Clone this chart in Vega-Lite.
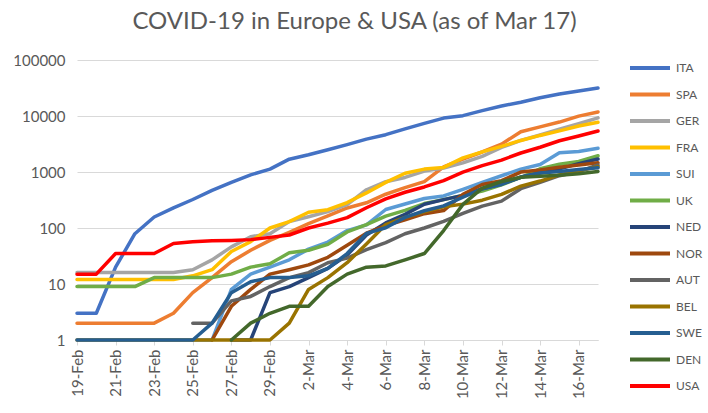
{
  "$schema": "https://vega.github.io/schema/vega-lite/v6.json",
  "width": 521,
  "height": 280,
  "autosize": {"type": "none"},
  "padding": {"left": 77, "top": 60, "right": 110, "bottom": 73},
  "background": "white",
  "title": {"text": "COVID-19 in Europe & USA (as of Mar 17)", "anchor": "middle", "frame": "group", "dx": 17, "offset": 19, "fontSize": 24, "font": "Lato", "fontWeight": "normal", "color": "#595959"},
  "config": {"view": {"stroke": null}},
  "data": {"values": [
{"c":"ITA","d":"19-Feb","v":3},{"c":"ITA","d":"20-Feb","v":3},{"c":"ITA","d":"21-Feb","v":20},{"c":"ITA","d":"22-Feb","v":79},{"c":"ITA","d":"23-Feb","v":157},{"c":"ITA","d":"24-Feb","v":229},{"c":"ITA","d":"25-Feb","v":323},{"c":"ITA","d":"26-Feb","v":470},{"c":"ITA","d":"27-Feb","v":655},{"c":"ITA","d":"28-Feb","v":889},{"c":"ITA","d":"29-Feb","v":1128},{"c":"ITA","d":"1-Mar","v":1694},{"c":"ITA","d":"2-Mar","v":2036},{"c":"ITA","d":"3-Mar","v":2502},{"c":"ITA","d":"4-Mar","v":3089},{"c":"ITA","d":"5-Mar","v":3858},{"c":"ITA","d":"6-Mar","v":4636},{"c":"ITA","d":"7-Mar","v":5883},{"c":"ITA","d":"8-Mar","v":7375},{"c":"ITA","d":"9-Mar","v":9172},{"c":"ITA","d":"10-Mar","v":10149},{"c":"ITA","d":"11-Mar","v":12462},{"c":"ITA","d":"12-Mar","v":15113},{"c":"ITA","d":"13-Mar","v":17660},{"c":"ITA","d":"14-Mar","v":21157},{"c":"ITA","d":"15-Mar","v":24747},{"c":"ITA","d":"16-Mar","v":27980},{"c":"ITA","d":"17-Mar","v":31506},
{"c":"SPA","d":"19-Feb","v":2},{"c":"SPA","d":"20-Feb","v":2},{"c":"SPA","d":"21-Feb","v":2},{"c":"SPA","d":"22-Feb","v":2},{"c":"SPA","d":"23-Feb","v":2},{"c":"SPA","d":"24-Feb","v":3},{"c":"SPA","d":"25-Feb","v":7},{"c":"SPA","d":"26-Feb","v":13},{"c":"SPA","d":"27-Feb","v":25},{"c":"SPA","d":"28-Feb","v":40},{"c":"SPA","d":"29-Feb","v":60},{"c":"SPA","d":"1-Mar","v":84},{"c":"SPA","d":"2-Mar","v":120},{"c":"SPA","d":"3-Mar","v":165},{"c":"SPA","d":"4-Mar","v":228},{"c":"SPA","d":"5-Mar","v":282},{"c":"SPA","d":"6-Mar","v":401},{"c":"SPA","d":"7-Mar","v":525},{"c":"SPA","d":"8-Mar","v":674},{"c":"SPA","d":"9-Mar","v":1231},{"c":"SPA","d":"10-Mar","v":1695},{"c":"SPA","d":"11-Mar","v":2277},{"c":"SPA","d":"12-Mar","v":3146},{"c":"SPA","d":"13-Mar","v":5232},{"c":"SPA","d":"14-Mar","v":6391},{"c":"SPA","d":"15-Mar","v":7798},{"c":"SPA","d":"16-Mar","v":9942},{"c":"SPA","d":"17-Mar","v":11826},
{"c":"GER","d":"19-Feb","v":16},{"c":"GER","d":"20-Feb","v":16},{"c":"GER","d":"21-Feb","v":16},{"c":"GER","d":"22-Feb","v":16},{"c":"GER","d":"23-Feb","v":16},{"c":"GER","d":"24-Feb","v":16},{"c":"GER","d":"25-Feb","v":18},{"c":"GER","d":"26-Feb","v":27},{"c":"GER","d":"27-Feb","v":46},{"c":"GER","d":"28-Feb","v":70},{"c":"GER","d":"29-Feb","v":79},{"c":"GER","d":"1-Mar","v":130},{"c":"GER","d":"2-Mar","v":159},{"c":"GER","d":"3-Mar","v":196},{"c":"GER","d":"4-Mar","v":262},{"c":"GER","d":"5-Mar","v":482},{"c":"GER","d":"6-Mar","v":670},{"c":"GER","d":"7-Mar","v":799},{"c":"GER","d":"8-Mar","v":1040},{"c":"GER","d":"9-Mar","v":1176},{"c":"GER","d":"10-Mar","v":1457},{"c":"GER","d":"11-Mar","v":1908},{"c":"GER","d":"12-Mar","v":2745},{"c":"GER","d":"13-Mar","v":3675},{"c":"GER","d":"14-Mar","v":4585},{"c":"GER","d":"15-Mar","v":5795},{"c":"GER","d":"16-Mar","v":7272},{"c":"GER","d":"17-Mar","v":9257},
{"c":"FRA","d":"19-Feb","v":12},{"c":"FRA","d":"20-Feb","v":12},{"c":"FRA","d":"21-Feb","v":12},{"c":"FRA","d":"22-Feb","v":12},{"c":"FRA","d":"23-Feb","v":12},{"c":"FRA","d":"24-Feb","v":12},{"c":"FRA","d":"25-Feb","v":14},{"c":"FRA","d":"26-Feb","v":18},{"c":"FRA","d":"27-Feb","v":38},{"c":"FRA","d":"28-Feb","v":57},{"c":"FRA","d":"29-Feb","v":100},{"c":"FRA","d":"1-Mar","v":130},{"c":"FRA","d":"2-Mar","v":191},{"c":"FRA","d":"3-Mar","v":212},{"c":"FRA","d":"4-Mar","v":285},{"c":"FRA","d":"5-Mar","v":423},{"c":"FRA","d":"6-Mar","v":653},{"c":"FRA","d":"7-Mar","v":949},{"c":"FRA","d":"8-Mar","v":1126},{"c":"FRA","d":"9-Mar","v":1209},{"c":"FRA","d":"10-Mar","v":1784},{"c":"FRA","d":"11-Mar","v":2281},{"c":"FRA","d":"12-Mar","v":2876},{"c":"FRA","d":"13-Mar","v":3661},{"c":"FRA","d":"14-Mar","v":4499},{"c":"FRA","d":"15-Mar","v":5423},{"c":"FRA","d":"16-Mar","v":6633},{"c":"FRA","d":"17-Mar","v":7730},
{"c":"SUI","d":"25-Feb","v":1},{"c":"SUI","d":"26-Feb","v":1},{"c":"SUI","d":"27-Feb","v":8},{"c":"SUI","d":"28-Feb","v":15},{"c":"SUI","d":"29-Feb","v":20},{"c":"SUI","d":"1-Mar","v":27},{"c":"SUI","d":"2-Mar","v":42},{"c":"SUI","d":"3-Mar","v":56},{"c":"SUI","d":"4-Mar","v":90},{"c":"SUI","d":"5-Mar","v":114},{"c":"SUI","d":"6-Mar","v":214},{"c":"SUI","d":"7-Mar","v":268},{"c":"SUI","d":"8-Mar","v":337},{"c":"SUI","d":"9-Mar","v":374},{"c":"SUI","d":"10-Mar","v":491},{"c":"SUI","d":"11-Mar","v":652},{"c":"SUI","d":"12-Mar","v":858},{"c":"SUI","d":"13-Mar","v":1125},{"c":"SUI","d":"14-Mar","v":1359},{"c":"SUI","d":"15-Mar","v":2200},{"c":"SUI","d":"16-Mar","v":2330},{"c":"SUI","d":"17-Mar","v":2650},
{"c":"UK","d":"19-Feb","v":9},{"c":"UK","d":"20-Feb","v":9},{"c":"UK","d":"21-Feb","v":9},{"c":"UK","d":"22-Feb","v":9},{"c":"UK","d":"23-Feb","v":13},{"c":"UK","d":"24-Feb","v":13},{"c":"UK","d":"25-Feb","v":13},{"c":"UK","d":"26-Feb","v":13},{"c":"UK","d":"27-Feb","v":15},{"c":"UK","d":"28-Feb","v":20},{"c":"UK","d":"29-Feb","v":23},{"c":"UK","d":"1-Mar","v":36},{"c":"UK","d":"2-Mar","v":40},{"c":"UK","d":"3-Mar","v":51},{"c":"UK","d":"4-Mar","v":85},{"c":"UK","d":"5-Mar","v":115},{"c":"UK","d":"6-Mar","v":163},{"c":"UK","d":"7-Mar","v":206},{"c":"UK","d":"8-Mar","v":273},{"c":"UK","d":"9-Mar","v":321},{"c":"UK","d":"10-Mar","v":382},{"c":"UK","d":"11-Mar","v":456},{"c":"UK","d":"12-Mar","v":590},{"c":"UK","d":"13-Mar","v":798},{"c":"UK","d":"14-Mar","v":1140},{"c":"UK","d":"15-Mar","v":1372},{"c":"UK","d":"16-Mar","v":1543},{"c":"UK","d":"17-Mar","v":1950},
{"c":"NED","d":"27-Feb","v":1},{"c":"NED","d":"28-Feb","v":1},{"c":"NED","d":"29-Feb","v":7},{"c":"NED","d":"1-Mar","v":9},{"c":"NED","d":"2-Mar","v":13},{"c":"NED","d":"3-Mar","v":19},{"c":"NED","d":"4-Mar","v":33},{"c":"NED","d":"5-Mar","v":75},{"c":"NED","d":"6-Mar","v":123},{"c":"NED","d":"7-Mar","v":175},{"c":"NED","d":"8-Mar","v":265},{"c":"NED","d":"9-Mar","v":321},{"c":"NED","d":"10-Mar","v":382},{"c":"NED","d":"11-Mar","v":503},{"c":"NED","d":"12-Mar","v":614},{"c":"NED","d":"13-Mar","v":804},{"c":"NED","d":"14-Mar","v":959},{"c":"NED","d":"15-Mar","v":1135},{"c":"NED","d":"16-Mar","v":1413},{"c":"NED","d":"17-Mar","v":1705},
{"c":"NOR","d":"26-Feb","v":1},{"c":"NOR","d":"27-Feb","v":4},{"c":"NOR","d":"28-Feb","v":8},{"c":"NOR","d":"29-Feb","v":15},{"c":"NOR","d":"1-Mar","v":18},{"c":"NOR","d":"2-Mar","v":22},{"c":"NOR","d":"3-Mar","v":30},{"c":"NOR","d":"4-Mar","v":49},{"c":"NOR","d":"5-Mar","v":81},{"c":"NOR","d":"6-Mar","v":110},{"c":"NOR","d":"7-Mar","v":140},{"c":"NOR","d":"8-Mar","v":180},{"c":"NOR","d":"9-Mar","v":205},{"c":"NOR","d":"10-Mar","v":400},{"c":"NOR","d":"11-Mar","v":598},{"c":"NOR","d":"12-Mar","v":702},{"c":"NOR","d":"13-Mar","v":996},{"c":"NOR","d":"14-Mar","v":1090},{"c":"NOR","d":"15-Mar","v":1221},{"c":"NOR","d":"16-Mar","v":1333},{"c":"NOR","d":"17-Mar","v":1463},
{"c":"AUT","d":"25-Feb","v":2},{"c":"AUT","d":"26-Feb","v":2},{"c":"AUT","d":"27-Feb","v":5},{"c":"AUT","d":"28-Feb","v":6},{"c":"AUT","d":"29-Feb","v":9},{"c":"AUT","d":"1-Mar","v":13},{"c":"AUT","d":"2-Mar","v":16},{"c":"AUT","d":"3-Mar","v":24},{"c":"AUT","d":"4-Mar","v":29},{"c":"AUT","d":"5-Mar","v":41},{"c":"AUT","d":"6-Mar","v":55},{"c":"AUT","d":"7-Mar","v":79},{"c":"AUT","d":"8-Mar","v":100},{"c":"AUT","d":"9-Mar","v":131},{"c":"AUT","d":"10-Mar","v":182},{"c":"AUT","d":"11-Mar","v":246},{"c":"AUT","d":"12-Mar","v":302},{"c":"AUT","d":"13-Mar","v":504},{"c":"AUT","d":"14-Mar","v":655},{"c":"AUT","d":"15-Mar","v":860},{"c":"AUT","d":"16-Mar","v":1018},{"c":"AUT","d":"17-Mar","v":1332},
{"c":"BEL","d":"19-Feb","v":1},{"c":"BEL","d":"20-Feb","v":1},{"c":"BEL","d":"21-Feb","v":1},{"c":"BEL","d":"22-Feb","v":1},{"c":"BEL","d":"23-Feb","v":1},{"c":"BEL","d":"24-Feb","v":1},{"c":"BEL","d":"25-Feb","v":1},{"c":"BEL","d":"26-Feb","v":1},{"c":"BEL","d":"27-Feb","v":1},{"c":"BEL","d":"28-Feb","v":1},{"c":"BEL","d":"29-Feb","v":1},{"c":"BEL","d":"1-Mar","v":2},{"c":"BEL","d":"2-Mar","v":8},{"c":"BEL","d":"3-Mar","v":13},{"c":"BEL","d":"4-Mar","v":24},{"c":"BEL","d":"5-Mar","v":52},{"c":"BEL","d":"6-Mar","v":115},{"c":"BEL","d":"7-Mar","v":155},{"c":"BEL","d":"8-Mar","v":195},{"c":"BEL","d":"9-Mar","v":239},{"c":"BEL","d":"10-Mar","v":267},{"c":"BEL","d":"11-Mar","v":314},{"c":"BEL","d":"12-Mar","v":399},{"c":"BEL","d":"13-Mar","v":559},{"c":"BEL","d":"14-Mar","v":689},{"c":"BEL","d":"15-Mar","v":886},{"c":"BEL","d":"16-Mar","v":1058},{"c":"BEL","d":"17-Mar","v":1243},
{"c":"SWE","d":"19-Feb","v":1},{"c":"SWE","d":"20-Feb","v":1},{"c":"SWE","d":"21-Feb","v":1},{"c":"SWE","d":"22-Feb","v":1},{"c":"SWE","d":"23-Feb","v":1},{"c":"SWE","d":"24-Feb","v":1},{"c":"SWE","d":"25-Feb","v":1},{"c":"SWE","d":"26-Feb","v":2},{"c":"SWE","d":"27-Feb","v":7},{"c":"SWE","d":"28-Feb","v":11},{"c":"SWE","d":"29-Feb","v":13},{"c":"SWE","d":"1-Mar","v":13},{"c":"SWE","d":"2-Mar","v":14},{"c":"SWE","d":"3-Mar","v":19},{"c":"SWE","d":"4-Mar","v":35},{"c":"SWE","d":"5-Mar","v":80},{"c":"SWE","d":"6-Mar","v":101},{"c":"SWE","d":"7-Mar","v":155},{"c":"SWE","d":"8-Mar","v":203},{"c":"SWE","d":"9-Mar","v":248},{"c":"SWE","d":"10-Mar","v":355},{"c":"SWE","d":"11-Mar","v":500},{"c":"SWE","d":"12-Mar","v":599},{"c":"SWE","d":"13-Mar","v":814},{"c":"SWE","d":"14-Mar","v":961},{"c":"SWE","d":"15-Mar","v":1022},{"c":"SWE","d":"16-Mar","v":1103},{"c":"SWE","d":"17-Mar","v":1190},
{"c":"DEN","d":"27-Feb","v":1},{"c":"DEN","d":"28-Feb","v":2},{"c":"DEN","d":"29-Feb","v":3},{"c":"DEN","d":"1-Mar","v":4},{"c":"DEN","d":"2-Mar","v":4},{"c":"DEN","d":"3-Mar","v":9},{"c":"DEN","d":"4-Mar","v":15},{"c":"DEN","d":"5-Mar","v":20},{"c":"DEN","d":"6-Mar","v":21},{"c":"DEN","d":"7-Mar","v":27},{"c":"DEN","d":"8-Mar","v":35},{"c":"DEN","d":"9-Mar","v":90},{"c":"DEN","d":"10-Mar","v":264},{"c":"DEN","d":"11-Mar","v":516},{"c":"DEN","d":"12-Mar","v":676},{"c":"DEN","d":"13-Mar","v":804},{"c":"DEN","d":"14-Mar","v":836},{"c":"DEN","d":"15-Mar","v":875},{"c":"DEN","d":"16-Mar","v":932},{"c":"DEN","d":"17-Mar","v":1024},
{"c":"USA","d":"19-Feb","v":15},{"c":"USA","d":"20-Feb","v":15},{"c":"USA","d":"21-Feb","v":35},{"c":"USA","d":"22-Feb","v":35},{"c":"USA","d":"23-Feb","v":35},{"c":"USA","d":"24-Feb","v":53},{"c":"USA","d":"25-Feb","v":57},{"c":"USA","d":"26-Feb","v":59},{"c":"USA","d":"27-Feb","v":60},{"c":"USA","d":"28-Feb","v":62},{"c":"USA","d":"29-Feb","v":68},{"c":"USA","d":"1-Mar","v":75},{"c":"USA","d":"2-Mar","v":100},{"c":"USA","d":"3-Mar","v":122},{"c":"USA","d":"4-Mar","v":153},{"c":"USA","d":"5-Mar","v":230},{"c":"USA","d":"6-Mar","v":330},{"c":"USA","d":"7-Mar","v":435},{"c":"USA","d":"8-Mar","v":541},{"c":"USA","d":"9-Mar","v":704},{"c":"USA","d":"10-Mar","v":994},{"c":"USA","d":"11-Mar","v":1301},{"c":"USA","d":"12-Mar","v":1630},{"c":"USA","d":"13-Mar","v":2183},{"c":"USA","d":"14-Mar","v":2770},{"c":"USA","d":"15-Mar","v":3613},{"c":"USA","d":"16-Mar","v":4400},{"c":"USA","d":"17-Mar","v":5400}
  ]},
  "mark": {"type": "line", "strokeWidth": 3.5, "strokeJoin": "round", "strokeCap": "round"},
  "encoding": {
    "x": {"field": "d", "type": "ordinal",
      "scale": {"type": "point", "padding": 0, "domain": ["19-Feb","20-Feb","21-Feb","22-Feb","23-Feb","24-Feb","25-Feb","26-Feb","27-Feb","28-Feb","29-Feb","1-Mar","2-Mar","3-Mar","4-Mar","5-Mar","6-Mar","7-Mar","8-Mar","9-Mar","10-Mar","11-Mar","12-Mar","13-Mar","14-Mar","15-Mar","16-Mar","17-Mar"]},
      "axis": {"title": null, "values": ["19-Feb","21-Feb","23-Feb","25-Feb","27-Feb","29-Feb","2-Mar","4-Mar","6-Mar","8-Mar","10-Mar","12-Mar","14-Mar","16-Mar"], "labelAngle": 270, "labelFont": "Lato", "labelFontSize": 15, "labelColor": "#595959", "labelPadding": 4, "tickColor": "#D9D9D9", "tickSize": 5, "domainColor": "#D9D9D9", "domainWidth": 1, "grid": false}},
    "y": {"field": "v", "type": "quantitative",
      "scale": {"type": "log", "domain": [1, 100000], "nice": false},
      "axis": {"title": null, "values": [1, 10, 100, 1000, 10000, 100000], "format": "d", "labelFont": "Lato", "labelFontSize": 15, "labelColor": "#595959", "labelPadding": 12, "ticks": false, "tickSize": 0, "domain": false, "grid": true, "gridColor": "#D9D9D9", "gridWidth": 1}},
    "color": {"field": "c", "type": "nominal",
      "scale": {"domain": ["ITA","SPA","GER","FRA","SUI","UK","NED","NOR","AUT","BEL","SWE","DEN","USA"],
        "range": ["#4472C4","#ED7D31","#A5A5A5","#FFC000","#5B9BD5","#70AD47","#264478","#9E480E","#636363","#997300","#255E91","#43682B","#FF0000"]},
      "legend": {"orient": "none", "legendX": 551, "legendY": -2, "title": null, "padding": 0, "symbolType": "stroke", "symbolSize": 1600, "symbolStrokeWidth": 4, "clipHeight": 20, "rowPadding": 6.5, "labelOffset": 4, "labelFont": "Lato", "labelFontSize": 12, "labelColor": "#595959"}}
  }
}
